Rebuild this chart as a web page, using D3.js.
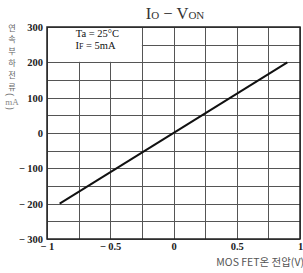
<!DOCTYPE html>
<html>
<head>
<meta charset="utf-8">
<script src="https://cdn.jsdelivr.net/npm/d3@7"></script>
<style>
  body { margin: 0; background: #fff; }
  svg { display: block; }
</style>
</head>
<body>
<div id="chart"></div>
<script>
// Data
const vOn = [-0.9, 0.9];          // MOS FET on voltage (V)
const iO = [-200, 200];           // load current (mA)
const xTicks = [-1, -0.5, 0, 0.5, 1];
const xTickLabels = ['\u2212\u20091', '\u2212\u20090.5', '0', '0.5', '1'];
const yTicks = [-300, -200, -100, 0, 100, 200, 300];
const yTickLabels = ['\u2212\u2009300', '\u2212\u2009200', '\u2212\u2009100', '0', '100', '200', '300'];
const yLabelChars = ['연', '속', '부', '하', '전', '류'];
const xGrid = d3.range(-1, 1.0001, 0.25);
const yGrid = d3.range(-300, 300.0001, 50);

const width = 303, height = 273;
const margin = { left: 47, right: 3, top: 27, bottom: 34 };

const svg = d3.select('#chart').append('svg')
    .attr('width', width)
    .attr('height', height);

const x = d3.scaleLinear().domain([-1, 1]).range([margin.left, width - margin.right]);
const y = d3.scaleLinear().domain([-300, 300]).range([height - margin.bottom, margin.top]);

const serif = '"Liberation Serif", "DejaVu Serif", serif';

// Grid
const grid = svg.append('g').attr('stroke', '#555').attr('stroke-width', 1);
grid.selectAll('.vx')
    .data(xGrid)
    .join('line')
    .attr('x1', d => Math.round(x(d)) + 0.5)
    .attr('x2', d => Math.round(x(d)) + 0.5)
    .attr('y1', y(300))
    .attr('y2', y(-300));
grid.selectAll('.hy')
    .data(yGrid)
    .join('line')
    .attr('y1', d => Math.round(y(d)) + 0.5)
    .attr('y2', d => Math.round(y(d)) + 0.5)
    .attr('x1', x(-1))
    .attr('x2', x(1));

// Legend box (hides grid in upper-left cell)
svg.append('rect')
    .attr('x', x(-1) + 1)
    .attr('y', y(300) + 1)
    .attr('width', x(-0.25) - x(-1) - 1)
    .attr('height', y(200) - y(300) - 1.5)
    .attr('fill', '#fff');

const legend = svg.append('g')
    .attr('font-family', serif)
    .attr('font-size', 10.5)
    .attr('fill', '#111')
    .attr('text-anchor', 'middle');
legend.append('text')
    .attr('x', (x(-1) + x(-0.25)) / 2 + 3)
    .attr('y', y(272))
    .text('Ta = 25\u00B0C');
const ifText = legend.append('text')
    .attr('x', (x(-1) + x(-0.25)) / 2 + 1)
    .attr('y', y(238));
ifText.append('tspan').text('I');
ifText.append('tspan').attr('font-size', 8).text('F');
ifText.append('tspan').text(' = 5mA');

// Frame
svg.append('rect')
    .attr('x', x(-1))
    .attr('y', y(300))
    .attr('width', x(1) - x(-1))
    .attr('height', y(-300) - y(300))
    .attr('fill', 'none')
    .attr('stroke', '#222')
    .attr('stroke-width', 1.5);

// Characteristic line
svg.append('path')
    .datum(vOn.map((v, i) => [v, iO[i]]))
    .attr('d', d3.line().x(d => x(d[0])).y(d => y(d[1])))
    .attr('fill', 'none')
    .attr('stroke', '#111')
    .attr('stroke-width', 2);

// Axes (labels only)
const yAxis = d3.axisLeft(y)
    .tickValues(yTicks)
    .tickSize(0)
    .tickPadding(4)
    .tickFormat((d, i) => yTickLabels[i]);
svg.append('g')
    .attr('transform', `translate(${x(-1)},0)`)
    .call(yAxis)
    .call(g => g.select('.domain').remove())
    .call(g => g.selectAll('text')
        .attr('font-family', serif)
        .attr('font-size', 10.5)
        .attr('font-weight', 'bold')
        .attr('fill', '#222'));

const xAxis = d3.axisBottom(x)
    .tickValues(xTicks)
    .tickSize(0)
    .tickPadding(4)
    .tickFormat((d, i) => xTickLabels[i]);
svg.append('g')
    .attr('transform', `translate(0,${y(-300)})`)
    .call(xAxis)
    .call(g => g.select('.domain').remove())
    .call(g => g.selectAll('text')
        .attr('font-family', serif)
        .attr('font-size', 10.5)
        .attr('font-weight', 'bold')
        .attr('fill', '#222'));

// Title: I_O - V_ON
const title = svg.append('text')
    .attr('x', 175)
    .attr('y', 19)
    .attr('text-anchor', 'middle')
    .attr('font-family', serif)
    .attr('font-size', 16.5)
    .attr('fill', '#333');
title.append('tspan').text('I');
title.append('tspan').attr('font-size', 11).text('O');
title.append('tspan').text(' \u2212 V');
title.append('tspan').attr('font-size', 11).text('ON');

// Y axis label: one text, each character placed in a column
const yLabel = svg.append('text')
    .attr('text-anchor', 'middle')
    .attr('font-family', '"Noto Sans CJK KR", sans-serif')
    .attr('font-size', 8.2)
    .attr('fill', '#666');
yLabel.selectAll('tspan.ch')
    .data(yLabelChars)
    .join('tspan')
    .attr('class', 'ch')
    .attr('x', 12)
    .attr('y', (d, i) => 30.5 + i * 11.9)
    .text(d => d);
yLabel.append('tspan')
    .attr('x', 9)
    .attr('y', 93)
    .attr('rotate', 90)
    .attr('font-size', 9)
    .text('(');
yLabel.append('tspan')
    .attr('x', 12)
    .attr('y', 104.5)
    .attr('font-family', serif)
    .attr('font-size', 9)
    .attr('fill', '#888')
    .text('mA');
yLabel.append('tspan')
    .attr('x', 9)
    .attr('y', 107)
    .attr('rotate', 90)
    .attr('font-size', 9)
    .text(')');

// X axis label
svg.append('text')
    .attr('x', 304)
    .attr('y', 266)
    .attr('text-anchor', 'end')
    .attr('font-family', '"Noto Sans CJK KR", sans-serif')
    .attr('font-size', 10.5)
    .attr('fill', '#555')
    .text('MOS FET온 전압(V)');
</script>
</body>
</html>
